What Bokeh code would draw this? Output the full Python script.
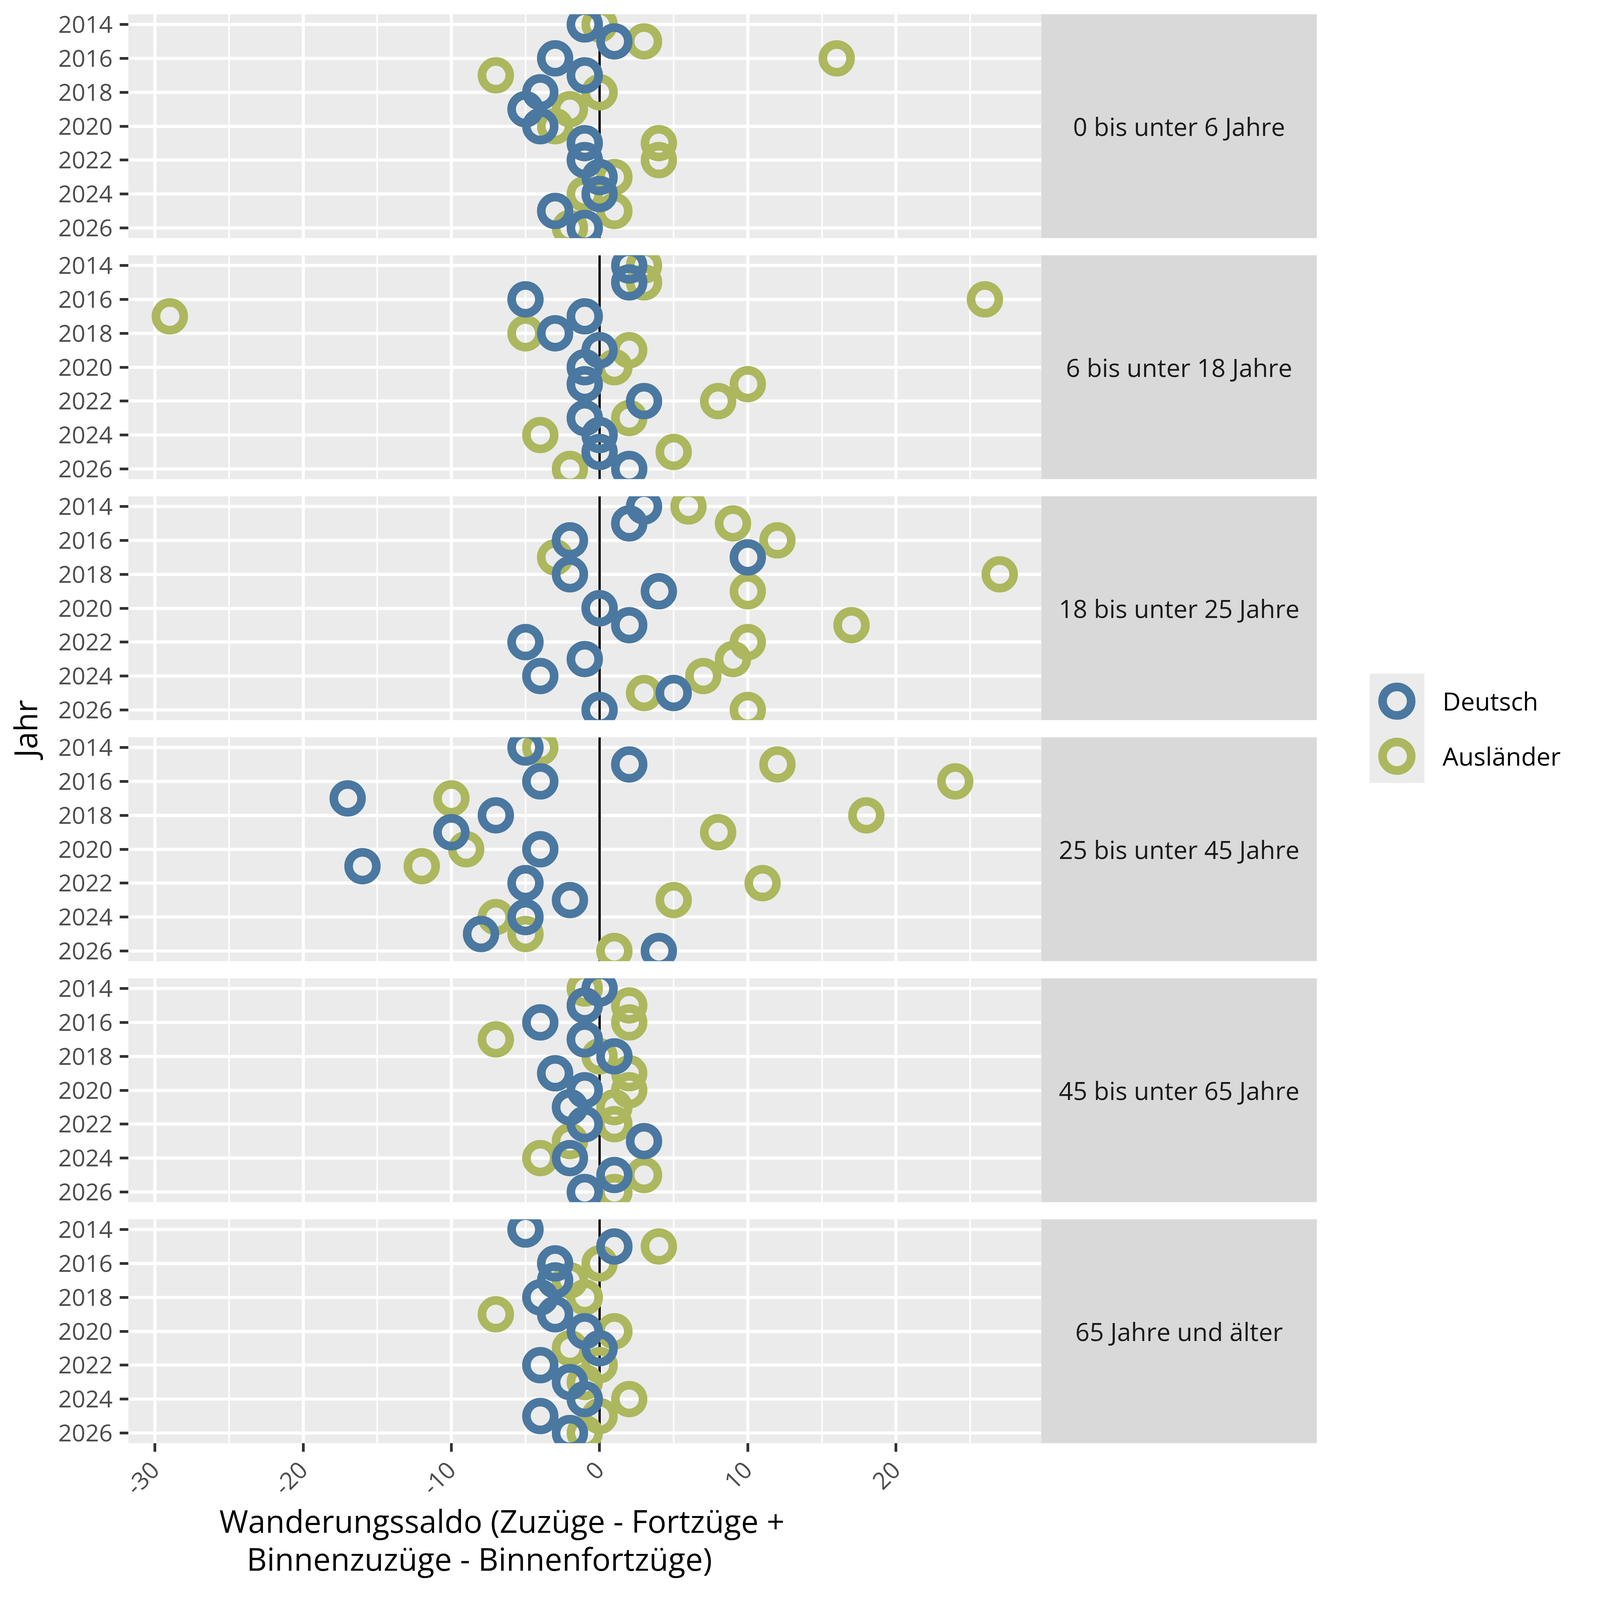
import math
from bokeh.plotting import figure
from bokeh.models import (ColumnDataSource, FixedTicker, Span, Label, Legend,
                          LegendItem, BoxAnnotation, Range1d, Title)
from bokeh.layouts import row, column
from bokeh.embed import file_html
from bokeh.resources import INLINE

# ---------------- data ----------------
years = [2014, 2015, 2016, 2017, 2018, 2019, 2020, 2021, 2022, 2023, 2024, 2025, 2026]

age_groups = ["0 bis unter 6 Jahre", "6 bis unter 18 Jahre", "18 bis unter 25 Jahre",
              "25 bis unter 45 Jahre", "45 bis unter 65 Jahre", "65 Jahre und älter"]

deutsch_0_6 = [-1, 1, -3, -1, -4, -5, -4, -1, -1, 0, 0, -3, -1]
auslaender_0_6 = [0, 3, 16, -7, 0, -2, -3, 4, 4, 1, -1, 1, -2]

deutsch_6_18 = [2, 2, -5, -1, -3, 0, -1, -1, 3, -1, 0, 0, 2]
auslaender_6_18 = [3, 3, 26, -29, -5, 2, 1, 10, 8, 2, -4, 5, -2]

deutsch_18_25 = [3, 2, -2, 10, -2, 4, 0, 2, -5, -1, -4, 5, 0]
auslaender_18_25 = [6, 9, 12, -3, 27, 10, 0, 17, 10, 9, 7, 3, 10]

deutsch_25_45 = [-5, 2, -4, -17, -7, -10, -4, -16, -5, -2, -5, -8, 4]
auslaender_25_45 = [-4, 12, 24, -10, 18, 8, -9, -12, 11, 5, -7, -5, 1]

deutsch_45_65 = [0, -1, -4, -1, 1, -3, -1, -2, -1, 3, -2, 1, -1]
auslaender_45_65 = [-1, 2, 2, -7, 0, 2, 2, 1, 1, -2, -4, 3, 1]

deutsch_65 = [-5, 1, -3, -3, -4, -3, -1, 0, -4, -2, -1, -4, -2]
auslaender_65 = [-5, 4, 0, -2, -1, -7, 1, -2, 0, -1, 2, 0, -1]

deutsch = [deutsch_0_6, deutsch_6_18, deutsch_18_25, deutsch_25_45, deutsch_45_65, deutsch_65]
auslaender = [auslaender_0_6, auslaender_6_18, auslaender_18_25, auslaender_25_45,
              auslaender_45_65, auslaender_65]

series_labels = ["Deutsch", "Ausländer"]
x_ticks = [-30, -20, -10, 0, 10, 20]
x_tick_labels = ["-30", "-20", "-10", "0", "10", "20"]
x_minor_ticks = [-25, -15, -5, 5, 15, 25]
y_ticks = [2014, 2016, 2018, 2020, 2022, 2024, 2026]

x_title_1 = "Wanderungssaldo (Zuzüge - Fortzüge +"
x_title_2 = "Binnenzuzüge - Binnenfortzüge)"
y_title = "Jahr"

# ---------------- style (page designed for a 4096 px wide viewport) ----------------
FONT = "Open Sans"
BLUE = "#4A78A0"
GREEN = "#ACB75E"
PANEL_BG = "#EBEBEB"
STRIP_BG = "#D9D9D9"
TICK_COL = "#333333"
TICKLAB_COL = "#4D4D4D"
FS_TICK = "61px"
FS_TEXT = "64px"
FS_TITLE = "80px"

LEFTFIG_W = 119
LEFT_BORDER = 209
FRAME_W = 2337
STRIP_W = 706
LEGFIG_W = 709
FRAME_H = 573
GAP_HALF = 22
FIRST_TOP = 36
SIDE_H = 4080
MARK_SIZE = 71
MARK_LW = 22
TICK_LEN = 22
LEG_BOX = 183

xr = Range1d(-31.8, 29.8)

rows = []
n = len(age_groups)
for i, grp in enumerate(age_groups):
    last = (i == n - 1)
    top = FIRST_TOP if i == 0 else GAP_HALF
    bottom = 0 if last else GAP_HALF
    p = figure(frame_width=FRAME_W, frame_height=FRAME_H, x_range=xr,
               y_range=Range1d(2026.6, 2013.4), title=None,
               output_backend="svg", toolbar_location=None,
               x_axis_location="below" if last else None, y_axis_location="left",
               min_border_left=LEFT_BORDER, min_border_right=0,
               min_border_top=top, min_border_bottom=bottom,
               background_fill_color=PANEL_BG, border_fill_color="white",
               outline_line_color=None)
    p.xgrid.ticker = FixedTicker(ticks=x_ticks, minor_ticks=x_minor_ticks)
    p.xgrid.grid_line_color = "white"
    p.xgrid.grid_line_width = 8
    p.xgrid.minor_grid_line_color = "white"
    p.xgrid.minor_grid_line_width = 4
    p.ygrid.ticker = FixedTicker(ticks=y_ticks)
    p.ygrid.grid_line_color = "white"
    p.ygrid.grid_line_width = 8
    p.ygrid.minor_grid_line_color = None

    ya = p.yaxis[0]
    ya.ticker = FixedTicker(ticks=y_ticks)
    ya.axis_line_color = None
    ya.major_tick_in = 0
    ya.major_tick_out = TICK_LEN
    ya.major_tick_line_width = 7
    ya.major_tick_line_color = TICK_COL
    ya.minor_tick_line_color = None
    ya.major_label_standoff = 18
    ya.major_label_text_font = FONT
    ya.major_label_text_font_size = FS_TICK
    ya.major_label_text_color = TICKLAB_COL

    if last:
        xa = p.xaxis[0]
        xa.ticker = FixedTicker(ticks=x_ticks)
        xa.major_label_overrides = {t: lab for t, lab in zip(x_ticks, x_tick_labels)}
        xa.axis_line_color = None
        xa.major_tick_in = 0
        xa.major_tick_out = TICK_LEN
        xa.major_tick_line_width = 7
        xa.major_tick_line_color = TICK_COL
        xa.minor_tick_line_color = None
        xa.major_label_orientation = math.pi / 4
        xa.major_label_standoff = 36
        xa.major_label_text_font = FONT
        xa.major_label_text_font_size = FS_TICK
        xa.major_label_text_color = TICKLAB_COL
        # two-line x axis title, placed by Bokeh below the axis
        p.add_layout(Title(text=x_title_1, align="left", offset=233, standoff=-28,
                           text_font=FONT, text_font_size=FS_TITLE,
                           text_font_style="normal", text_color="black"), "below")
        p.add_layout(Title(text=x_title_2, align="left", offset=303, standoff=0,
                           text_font=FONT, text_font_size=FS_TITLE,
                           text_font_style="normal", text_color="black"), "below")

    p.add_layout(Span(location=0, dimension="height", line_color="black",
                      line_width=6, level="underlay"))

    src_a = ColumnDataSource(dict(saldo=auslaender[i], jahr=years))
    src_d = ColumnDataSource(dict(saldo=deutsch[i], jahr=years))
    p.scatter(x="saldo", y="jahr", source=src_a, marker="circle", size=MARK_SIZE,
              fill_color=None, line_color=GREEN, line_width=MARK_LW)
    p.scatter(x="saldo", y="jahr", source=src_d, marker="circle", size=MARK_SIZE,
              fill_color=None, line_color=BLUE, line_width=MARK_LW)

    s = figure(frame_width=STRIP_W, frame_height=FRAME_H, title=None,
               output_backend="svg", toolbar_location=None,
               x_axis_location=None, y_axis_location=None,
               min_border_left=0, min_border_right=0,
               min_border_top=top, min_border_bottom=GAP_HALF,
               background_fill_color=STRIP_BG, border_fill_color="white",
               outline_line_color=None)
    s.grid.visible = False
    s.add_layout(Label(x=STRIP_W / 2, y=FRAME_H / 2, x_units="screen", y_units="screen",
                       text=grp, text_align="center", text_baseline="middle",
                       text_font=FONT, text_font_size=FS_TEXT, text_color="#1A1A1A"))
    rows.append(row(p, s, spacing=0))

panels = column(*rows, spacing=0)

# left figure with y title
lf = figure(frame_width=LEFTFIG_W, frame_height=SIDE_H, title=None, output_backend="svg",
            toolbar_location=None, x_axis_location=None, y_axis_location=None,
            min_border=0, outline_line_color=None, background_fill_color="white")
lf.grid.visible = False
lf.add_layout(Label(x=63, y=2215, x_units="screen", y_units="screen", text=y_title,
                    angle=math.pi / 2, text_align="center", text_baseline="middle",
                    text_font=FONT, text_font_size=FS_TITLE, text_color="black"))

# legend figure
gf = figure(frame_width=LEGFIG_W, frame_height=SIDE_H, title=None, output_backend="svg",
            toolbar_location=None, x_axis_location=None, y_axis_location=None,
            x_range=Range1d(0, 1), y_range=Range1d(0, 1),
            min_border=0, outline_line_color=None, background_fill_color="white")
gf.grid.visible = False
leg_src_d = ColumnDataSource(dict(x=[-5], y=[-5]))
leg_src_a = ColumnDataSource(dict(x=[-5], y=[-5]))
r_d = gf.scatter(x="x", y="y", source=leg_src_d, marker="circle", size=MARK_SIZE,
                 fill_color=None, line_color=BLUE, line_width=MARK_LW)
r_a = gf.scatter(x="x", y="y", source=leg_src_a, marker="circle", size=MARK_SIZE,
                 fill_color=None, line_color=GREEN, line_width=MARK_LW)
gf.add_layout(BoxAnnotation(left=135, right=275, top=2356, bottom=2076,
                            left_units="screen", right_units="screen",
                            top_units="screen", bottom_units="screen",
                            fill_color=PANEL_BG, fill_alpha=1, line_color=None,
                            level="underlay"))
legend_renderers = [r_d, r_a]
legend_y = [2194, 2053]
for lab, rend, ly in zip(series_labels, legend_renderers, legend_y):
    lg = Legend(items=[LegendItem(label=lab, renderers=[rend])],
                location=(113, ly), orientation="vertical",
                glyph_width=LEG_BOX, glyph_height=LEG_BOX, spacing=0, padding=0, margin=0,
                label_standoff=26, border_line_color=None, background_fill_alpha=0,
                label_text_font=FONT, label_text_font_size=FS_TEXT,
                label_text_color="black")
    gf.add_layout(lg)

layout = row(lf, panels, gf, spacing=0)

with open("out.html", "w") as f:
    f.write(file_html(layout, INLINE))
